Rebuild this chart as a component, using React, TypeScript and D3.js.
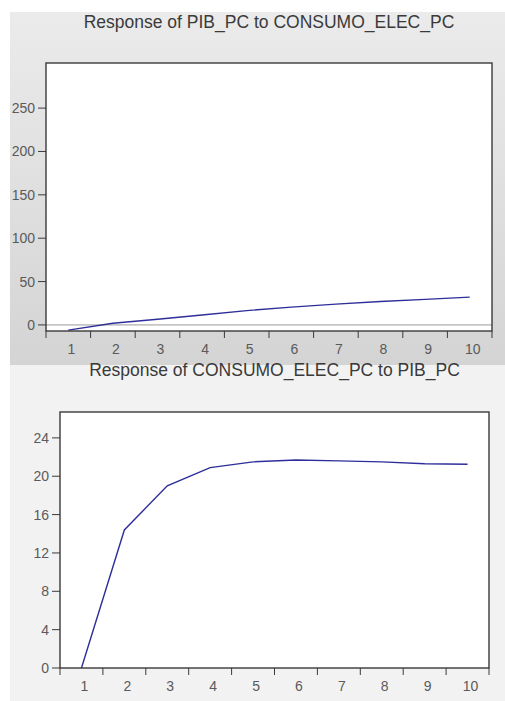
import React from 'react'
import * as d3 from 'd3'

// periods 1..10
const periods = [1, 2, 3, 4, 5, 6, 7, 8, 9, 10]

// Response of PIB_PC to CONSUMO_ELEC_PC
const pibResponse = [-6, 2, 6.5, 11.5, 16.5, 20.5, 24, 27, 29.5, 32]
const pibTicks = [0, 50, 100, 150, 200, 250]

// Response of CONSUMO_ELEC_PC to PIB_PC
const elecResponse = [0, 14.4, 19.0, 20.9, 21.5, 21.7, 21.6, 21.5, 21.3, 21.25]
const elecTicks = [0, 4, 8, 12, 16, 20, 24]

const FONT = '"Liberation Sans", Arial, sans-serif'

function Panel(props) {
  const { title, values, ticks, yDomain, box, titleY, zeroLine } = props
  const x = d3.scaleLinear().domain([0.5, 10.5]).range([box.left, box.right])
  const y = d3.scaleLinear().domain(yDomain).range([box.bottom, box.top])
  const line = d3.line<number>()
    .x((d, i) => x(periods[i]))
    .y(d => y(d))

  const bounds = d3.range(0.5, 11, 1)

  return (
    <g>
      <text x={(box.left + box.right) / 2} y={titleY} textAnchor="middle"
        fontFamily={FONT} fontSize={17.5} fill="#3a3a3a">{title}</text>
      <rect x={box.left} y={box.top} width={box.right - box.left} height={box.bottom - box.top}
        fill="#fff" />
      {zeroLine && (
        <line x1={box.left} x2={box.right} y1={y(0)} y2={y(0)} stroke="#9a9a9a" strokeWidth={1} />
      )}
      <path d={line(values) || ''} fill="none" stroke="#2e2e9a" strokeWidth={1.4} />
      <rect x={box.left} y={box.top} width={box.right - box.left} height={box.bottom - box.top}
        fill="none" stroke="#3a3a3a" strokeWidth={1.4} />
      {ticks.map(t => (
        <g key={t}>
          <line x1={box.left - 8} x2={box.left} y1={y(t)} y2={y(t)} stroke="#3a3a3a" />
          <text x={box.left - 11} y={y(t) + 5} textAnchor="end" fontFamily={FONT}
            fontSize={14} fill="#5a5a5a">{t}</text>
        </g>
      ))}
      {bounds.map(b => (
        <line key={b} x1={x(b)} x2={x(b)} y1={box.bottom} y2={box.bottom + 7} stroke="#3a3a3a" />
      ))}
      {periods.map(p => (
        <text key={p} x={x(p) + 3} y={box.bottom + 23} textAnchor="middle" fontFamily={FONT}
          fontSize={14} fill="#5a5a5a">{p}</text>
      ))}
    </g>
  )
}

export default function App() {
  return (
    <svg width={505} height={701} style={{ position: 'absolute', left: 0, top: 0 }}>
      <defs>
        <linearGradient id="topBg" x1="0" y1="0" x2="0" y2="1">
          <stop offset="0" stopColor="#ebebeb" />
          <stop offset="1" stopColor="#d4d4d4" />
        </linearGradient>
      </defs>
      <rect x={0} y={0} width={505} height={701} fill="#fff" />
      <rect x={10} y={12} width={495} height={353} fill="url(#topBg)" />
      <rect x={10} y={365} width={495} height={336} fill="#f2f2f2" />
      <Panel
        title="Response of PIB_PC to CONSUMO_ELEC_PC"
        values={pibResponse}
        ticks={pibTicks}
        yDomain={[-7, 302]}
        box={{ left: 46, right: 492, top: 63, bottom: 331 }}
        titleY={28}
        zeroLine
      />
      <Panel
        title="Response of CONSUMO_ELEC_PC to PIB_PC"
        values={elecResponse}
        ticks={elecTicks}
        yDomain={[0, 26.7]}
        box={{ left: 60, right: 489, top: 412, bottom: 668 }}
        titleY={376}
        zeroLine={false}
      />
    </svg>
  )
}
